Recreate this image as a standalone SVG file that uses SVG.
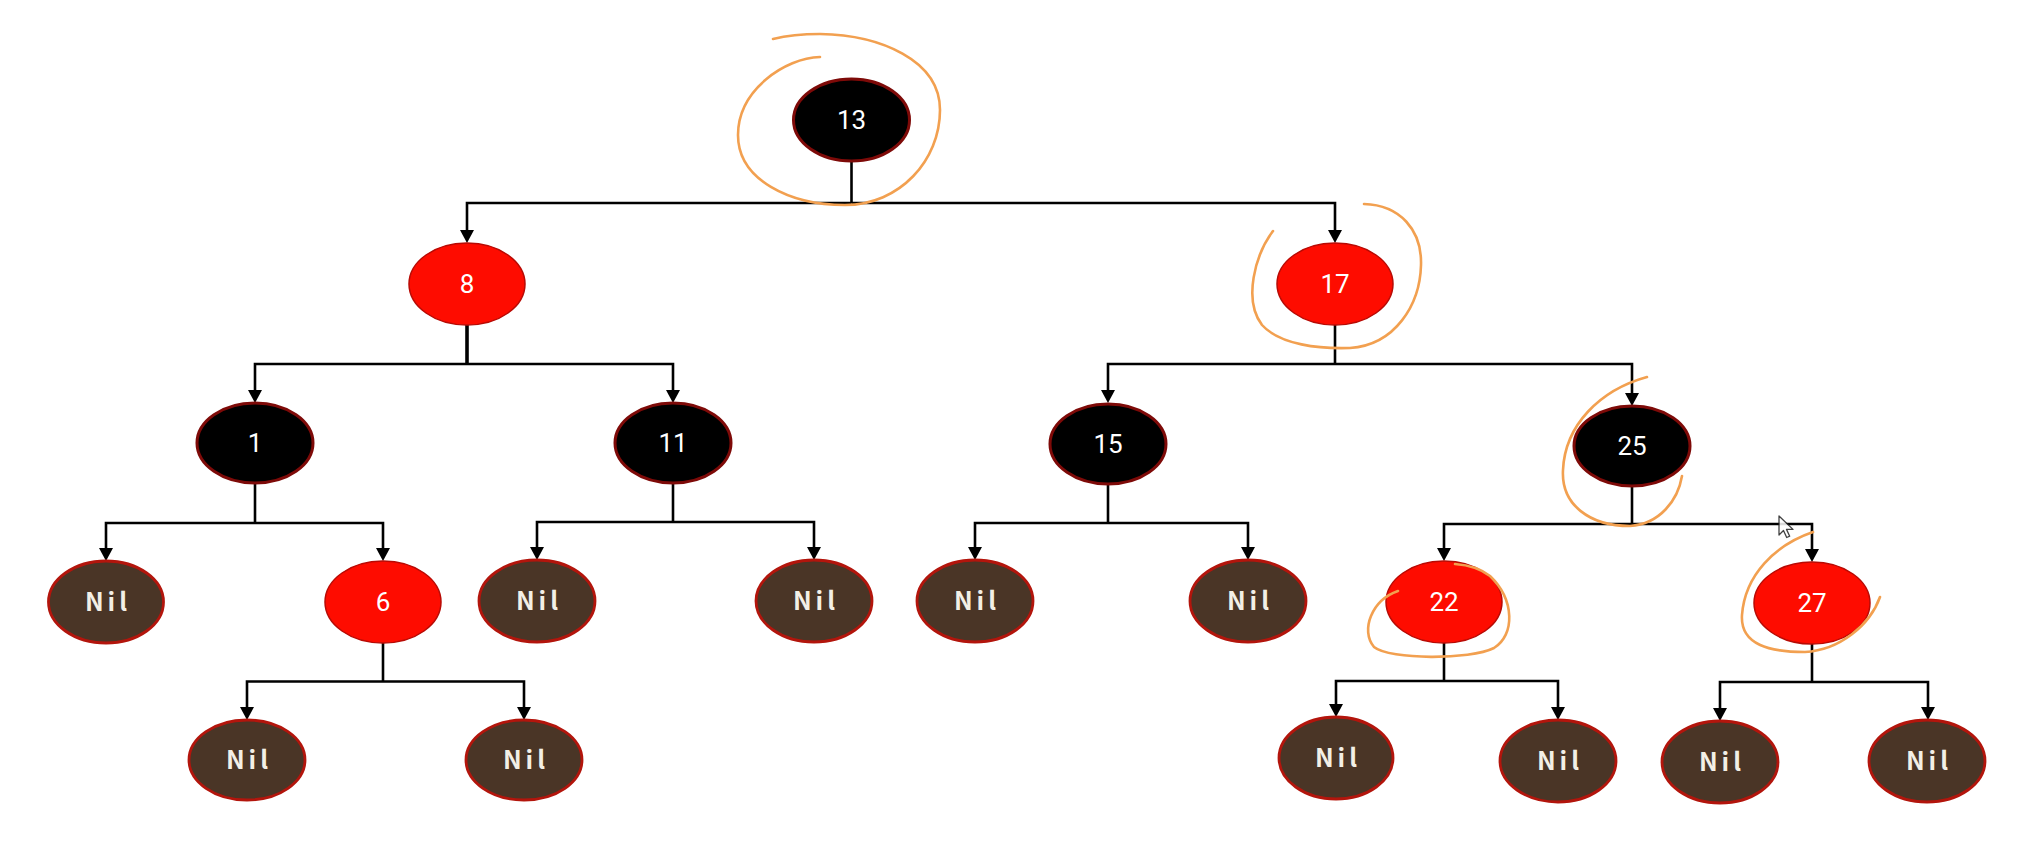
<svg xmlns="http://www.w3.org/2000/svg" width="2042" height="842" viewBox="0 0 2042 842">
  <style>
    .edge { fill: none; stroke: #000; stroke-width: 2.6; marker-end: url(#arrow); }
    .stem { fill: none; stroke: #000; stroke-width: 2.6; }
    .stem.thick { stroke-width: 3.6; }
    .black ellipse { fill: #000; stroke: #7e0a08; stroke-width: 3; }
    .red ellipse { fill: #fe0c00; stroke: #b80a04; stroke-width: 1.5; }
    .nil ellipse { fill: #4a3526; stroke: #b3150c; stroke-width: 2.8; }
    .num { font-family: Roboto, "Liberation Sans", sans-serif; font-size: 26px; fill: #fff; text-anchor: middle; }
    .niltext { font-family: "Noto Sans CJK SC", "DejaVu Sans", sans-serif; font-weight: bold; font-size: 25px; letter-spacing: 4px; fill: #f3efe6; text-anchor: middle; }
    .mark { fill: none; stroke: #f2a050; stroke-width: 2.6; stroke-linecap: round; stroke-linejoin: round; }
  </style>
  <defs>
    <marker id="arrow" viewBox="0 0 13 14" refX="9" refY="7" markerWidth="13" markerHeight="14" orient="auto" markerUnits="userSpaceOnUse">
      <path d="M0,0 L13,7 L0,14 z" fill="#000"/>
    </marker>
  </defs>
  <rect width="2042" height="842" fill="#fff"/>

  <!-- tree edges: stem down from parent, bar across, drop to each child -->
  <g id="connectors">
    <path class="stem" d="M851.5,161 V203"/>
    <path class="edge" d="M851.5,203 H467 V239"/>
    <path class="edge" d="M851.5,203 H1335 V239"/>

    <path class="stem thick" d="M467,325 V364"/>
    <path class="edge" d="M467,364 H255 V399"/>
    <path class="edge" d="M467,364 H673 V399"/>

    <path class="stem" d="M1335,325 V364"/>
    <path class="edge" d="M1335,364 H1108 V399"/>
    <path class="edge" d="M1335,364 H1632 V402"/>

    <path class="stem" d="M255,484 V523"/>
    <path class="edge" d="M255,523 H106 V557"/>
    <path class="edge" d="M255,523 H383 V557"/>

    <path class="stem" d="M673,484 V522"/>
    <path class="edge" d="M673,522 H537 V556"/>
    <path class="edge" d="M673,522 H814 V556"/>

    <path class="stem" d="M1108,484 V523"/>
    <path class="edge" d="M1108,523 H975 V556"/>
    <path class="edge" d="M1108,523 H1248 V556"/>

    <path class="stem" d="M1632,487 V524"/>
    <path class="edge" d="M1632,524 H1444 V557"/>
    <path class="edge" d="M1632,524 H1812 V558"/>

    <path class="stem" d="M383,643 V681.5"/>
    <path class="edge" d="M383,681.5 H247 V716"/>
    <path class="edge" d="M383,681.5 H524 V716"/>

    <path class="stem" d="M1444,643 V681"/>
    <path class="edge" d="M1444,681 H1336 V713"/>
    <path class="edge" d="M1444,681 H1558 V716"/>

    <path class="stem" d="M1812,644 V682"/>
    <path class="edge" d="M1812,682 H1720 V717"/>
    <path class="edge" d="M1812,682 H1928 V716"/>
  </g>

  <!-- nodes -->
  <g id="n13" class="black"><ellipse cx="851.5" cy="120" rx="58" ry="41"/><text class="num" x="851.5" y="129">13</text></g>
  <g id="n8" class="red"><ellipse cx="467" cy="284" rx="58" ry="41"/><text class="num" x="467" y="293">8</text></g>
  <g id="n17" class="red"><ellipse cx="1335" cy="284" rx="58" ry="41"/><text class="num" x="1335" y="293">17</text></g>

  <g id="n1" class="black"><ellipse cx="255" cy="443" rx="58" ry="40"/><text class="num" x="255" y="452">1</text></g>
  <g id="n11" class="black"><ellipse cx="673" cy="443" rx="58" ry="40"/><text class="num" x="673" y="452">11</text></g>
  <g id="n15" class="black"><ellipse cx="1108" cy="444" rx="58" ry="40"/><text class="num" x="1108" y="453">15</text></g>
  <g id="n25" class="black"><ellipse cx="1632" cy="446" rx="58" ry="40"/><text class="num" x="1632" y="455">25</text></g>

  <g id="nil-1L" class="nil"><ellipse cx="106" cy="602" rx="57.5" ry="41"/><text class="niltext" x="108" y="611">Nil</text></g>
  <g id="n6" class="red"><ellipse cx="383" cy="602" rx="58" ry="41"/><text class="num" x="383" y="611">6</text></g>
  <g id="nil-11L" class="nil"><ellipse cx="537" cy="601" rx="58" ry="41"/><text class="niltext" x="539" y="610">Nil</text></g>
  <g id="nil-11R" class="nil"><ellipse cx="814" cy="601" rx="58" ry="41"/><text class="niltext" x="816" y="610">Nil</text></g>
  <g id="nil-15L" class="nil"><ellipse cx="975" cy="601" rx="58" ry="41"/><text class="niltext" x="977" y="610">Nil</text></g>
  <g id="nil-15R" class="nil"><ellipse cx="1248" cy="601" rx="58" ry="41"/><text class="niltext" x="1250" y="610">Nil</text></g>
  <g id="n22" class="red"><ellipse cx="1444" cy="602" rx="58" ry="41"/><text class="num" x="1444" y="611">22</text></g>
  <g id="n27" class="red"><ellipse cx="1812" cy="603" rx="58" ry="41"/><text class="num" x="1812" y="612">27</text></g>

  <g id="nil-6L" class="nil"><ellipse cx="247" cy="760" rx="58" ry="40"/><text class="niltext" x="249" y="769">Nil</text></g>
  <g id="nil-6R" class="nil"><ellipse cx="524" cy="760" rx="58" ry="40"/><text class="niltext" x="526" y="769">Nil</text></g>
  <g id="nil-22L" class="nil"><ellipse cx="1336" cy="758" rx="57" ry="41"/><text class="niltext" x="1338" y="767">Nil</text></g>
  <g id="nil-22R" class="nil"><ellipse cx="1558" cy="761" rx="58" ry="41"/><text class="niltext" x="1560" y="770">Nil</text></g>
  <g id="nil-27L" class="nil"><ellipse cx="1720" cy="762" rx="58" ry="41"/><text class="niltext" x="1722" y="771">Nil</text></g>
  <g id="nil-27R" class="nil"><ellipse cx="1927" cy="761" rx="58" ry="41"/><text class="niltext" x="1929" y="770">Nil</text></g>

  <!-- hand-drawn highlight loops -->
  <g id="highlights">
    <path class="mark" d="M820,57 C785,58 738,90 738,135 C738,180 790,205 845,205 C900,205 940,160 940,110 C940,60 880,35 820,34 C800,34 785,36 773,39"/>
    <path class="mark" d="M1273,231 C1255,255 1243,300 1262,325 C1280,345 1320,349 1350,348 C1395,345 1420,305 1421,265 C1422,230 1400,205 1364,204"/>
    <path class="mark" d="M1647,377 C1600,390 1565,425 1563,470 C1561,505 1590,526 1630,526 C1660,524 1678,500 1682,476"/>
    <path class="mark" d="M1398,591 C1372,600 1360,630 1374,647 C1390,660 1470,660 1494,648 C1515,635 1515,600 1490,576 C1480,568 1468,565 1455,564"/>
    <path class="mark" d="M1813,532 C1775,545 1745,575 1742,615 C1740,645 1770,652 1805,652 C1840,650 1870,625 1880,597"/>
  </g>

  <!-- pointer -->
  <path id="pointer" d="M1779,516 v19 l4.5,-4.5 l3.2,7 l3,-1.3 l-3.2,-6.8 h6.5 z" fill="#fff" stroke="#222" stroke-width="1.3" stroke-linejoin="round" opacity="0.85"/>
</svg>
